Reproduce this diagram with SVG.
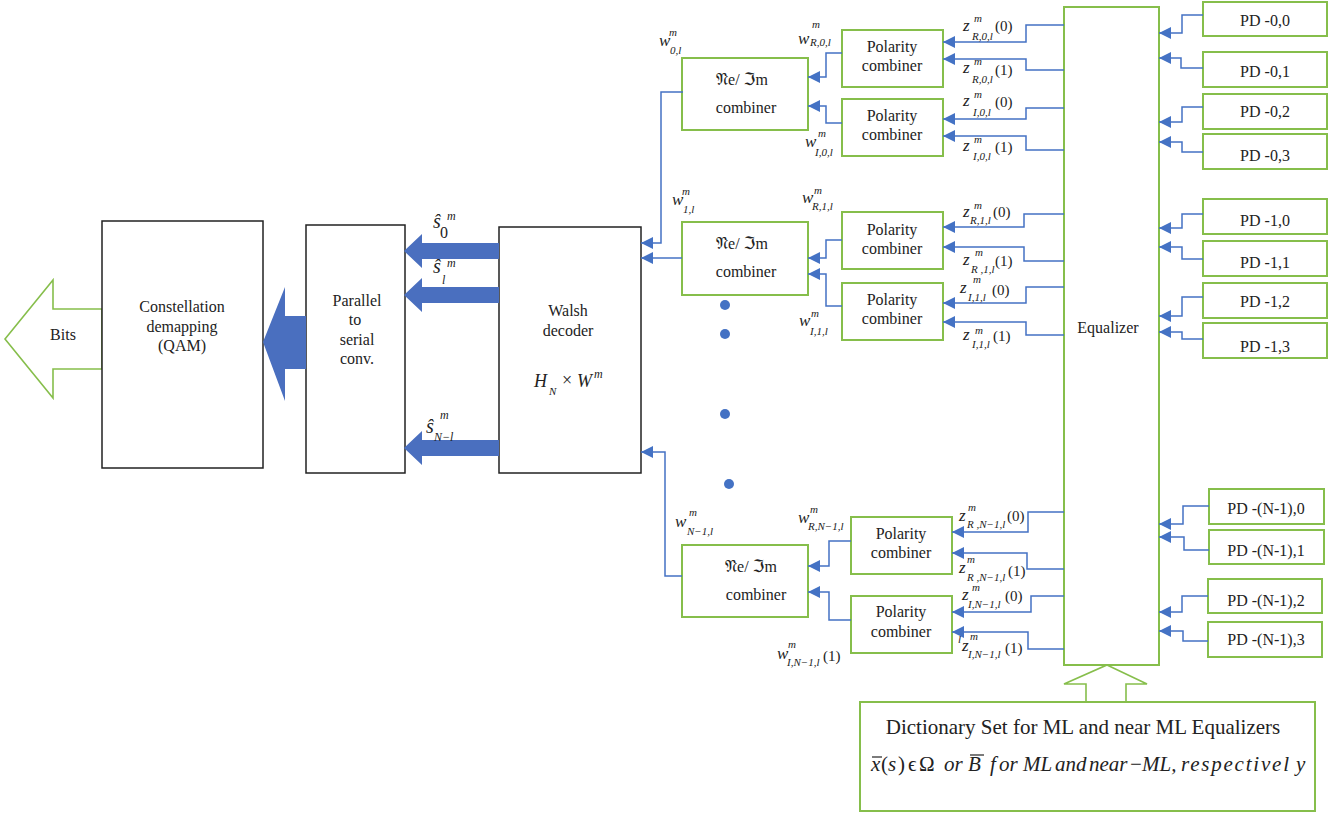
<svg xmlns="http://www.w3.org/2000/svg" width="1341" height="814" viewBox="0 0 1341 814">
<style>
.bk{fill:#fff;stroke:#222;stroke-width:1.5}
.gr{fill:#fff;stroke:#86BE4B;stroke-width:2}
.ga{fill:#fff;stroke:#86BE4B;stroke-width:1.6}
.bf{fill:#4A6FBF}
.cn{fill:none;stroke:#4472C4;stroke-width:1.5;marker-end:url(#ah)}
.t{font-family:"Liberation Serif","Times New Roman",serif;font-size:16px;fill:#222}
.c{text-anchor:middle}
.v{font-style:italic;font-size:17px}
.s{font-style:italic;font-size:11px}
.p{font-size:15px}
.fk{font-family:"DejaVu Serif","DejaVu Sans",serif;font-size:17px}
.i{font-style:italic}
</style>
<defs>
<marker id="ah" markerUnits="userSpaceOnUse" markerWidth="12" markerHeight="12" refX="12" refY="6" orient="auto">
<path d="M0,0 L12,6 L0,12 z" fill="#4472C4"/>
</marker>
</defs>

<g id="bits">
<polygon class="ga" points="5,339 53,280 53,309 102,309 102,369 53,369 53,398"/>
<text class="t c" x="63" y="340">Bits</text>
</g>

<g id="constellation">
<rect class="bk" x="102" y="221" width="161" height="247"/>
<text class="t c" x="182" y="312">Constellation</text>
<text class="t c" x="182" y="332">demapping</text>
<text class="t c" x="182" y="351">(QAM)</text>
</g>

<g id="p2s">
<rect class="bk" x="306" y="225" width="99" height="248"/>
<text class="t c" x="357" y="306">Parallel</text>
<text class="t c" x="355" y="325">to</text>
<text class="t c" x="357" y="345">serial</text>
<text class="t c" x="357" y="364">conv.</text>
</g>

<g id="walsh">
<rect class="bk" x="499" y="227" width="142" height="246"/>
<text class="t c" x="568" y="316">Walsh</text>
<text class="t c" x="568" y="336">decoder</text>
<text class="t" style="font-size:18px"><tspan x="534" y="387" class="i">H</tspan><tspan x="549" y="395" class="i" style="font-size:11px">N</tspan><tspan x="562" y="386">×</tspan><tspan x="577" y="387" class="i">W</tspan><tspan x="594" y="378" class="i" style="font-size:12px">m</tspan></text>
</g>

<g id="combiner0">
<rect class="gr" x="682" y="58" width="126" height="72"/>
<text class="t c" x="742" y="85"><tspan class="fk">𝔑</tspan>e/ <tspan class="fk">ℑ</tspan>m</text>
<text class="t c" x="746" y="113">combiner</text>
</g>
<g id="combiner1">
<rect class="gr" x="682" y="222" width="126" height="73"/>
<text class="t c" x="742" y="249"><tspan class="fk">𝔑</tspan>e/ <tspan class="fk">ℑ</tspan>m</text>
<text class="t c" x="746" y="277">combiner</text>
</g>
<g id="combinerN">
<rect class="gr" x="682" y="545" width="126" height="72"/>
<text class="t c" x="751" y="572"><tspan class="fk">𝔑</tspan>e/ <tspan class="fk">ℑ</tspan>m</text>
<text class="t c" x="756" y="600">combiner</text>
</g>

<g id="pol0R"><rect class="gr" x="842" y="30" width="101" height="57"/><text class="t c" x="892" y="52">Polarity</text><text class="t c" x="892" y="71">combiner</text></g>
<g id="pol0I"><rect class="gr" x="842" y="99" width="101" height="57"/><text class="t c" x="892" y="121">Polarity</text><text class="t c" x="892" y="140">combiner</text></g>
<g id="pol1R"><rect class="gr" x="842" y="212" width="101" height="57"/><text class="t c" x="892" y="235">Polarity</text><text class="t c" x="892" y="254">combiner</text></g>
<g id="pol1I"><rect class="gr" x="842" y="283" width="101" height="57"/><text class="t c" x="892" y="305">Polarity</text><text class="t c" x="892" y="324">combiner</text></g>
<g id="polNR"><rect class="gr" x="851" y="517" width="101" height="57"/><text class="t c" x="901" y="539">Polarity</text><text class="t c" x="901" y="558">combiner</text></g>
<g id="polNI"><rect class="gr" x="851" y="596" width="101" height="57"/><text class="t c" x="901" y="617">Polarity</text><text class="t c" x="901" y="637">combiner</text></g>

<g id="equalizer">
<rect class="gr" x="1064" y="7" width="95" height="658"/>
<text class="t c" x="1108" y="333">Equalizer</text>
</g>

<g id="pd00"><rect class="gr" x="1203" y="2" width="124" height="34"/><text class="t c" x="1265" y="26">PD -0,0</text></g>
<g id="pd01"><rect class="gr" x="1203" y="52" width="124" height="35"/><text class="t c" x="1265" y="77">PD -0,1</text></g>
<g id="pd02"><rect class="gr" x="1203" y="94" width="124" height="35"/><text class="t c" x="1265" y="117">PD -0,2</text></g>
<g id="pd03"><rect class="gr" x="1203" y="134" width="124" height="35"/><text class="t c" x="1265" y="161">PD -0,3</text></g>
<g id="pd10"><rect class="gr" x="1203" y="199" width="124" height="35"/><text class="t c" x="1265" y="226">PD -1,0</text></g>
<g id="pd11"><rect class="gr" x="1203" y="241" width="124" height="35"/><text class="t c" x="1265" y="268">PD -1,1</text></g>
<g id="pd12"><rect class="gr" x="1203" y="283" width="124" height="35"/><text class="t c" x="1265" y="307">PD -1,2</text></g>
<g id="pd13"><rect class="gr" x="1203" y="323" width="124" height="35"/><text class="t c" x="1265" y="352">PD -1,3</text></g>
<g id="pdN0"><rect class="gr" x="1209" y="489" width="115" height="35"/><text class="t c" x="1266" y="514">PD -(N-1),0</text></g>
<g id="pdN1"><rect class="gr" x="1209" y="530" width="115" height="34"/><text class="t c" x="1266" y="556">PD -(N-1),1</text></g>
<g id="pdN2"><rect class="gr" x="1208" y="579" width="114" height="34"/><text class="t c" x="1266" y="606">PD -(N-1),2</text></g>
<g id="pdN3"><rect class="gr" x="1208" y="622" width="114" height="35"/><text class="t c" x="1266" y="645">PD -(N-1),3</text></g>

<g id="dictionary">
<polygon class="ga" points="1107,665 1147,684 1126,684 1126,702 1086,702 1086,684 1064,684"/>
<rect class="gr" x="860" y="702" width="455" height="109"/>
<text class="t c" x="1083" y="734" style="font-size:21px">Dictionary Set for ML and near ML Equalizers</text>
<text class="t" style="font-size:21px" y="771"><tspan class="i" x="871" y="771">x</tspan><tspan x="881">(</tspan><tspan class="i" x="888">s</tspan><tspan x="898">)</tspan><tspan x="908">ϵ</tspan><tspan x="919">Ω</tspan><tspan class="i" x="944">or</tspan><tspan class="i" x="968">B</tspan><tspan class="i" x="990">f</tspan><tspan class="i" x="999">or</tspan><tspan class="i" x="1023">ML</tspan><tspan class="i" x="1055">and</tspan><tspan class="i" x="1089">near</tspan><tspan x="1130">−</tspan><tspan class="i" x="1142">ML,</tspan><tspan class="i" x="1181" textLength="108" lengthAdjust="spacing">respectivel</tspan><tspan class="i" x="1296">y</tspan></text>
<line x1="872" y1="757" x2="882" y2="757" stroke="#222" stroke-width="1.2"/>
<line x1="970" y1="755" x2="984" y2="755" stroke="#222" stroke-width="1.2"/>
</g>

<g id="dots" fill="#4472C4">
<circle cx="725" cy="305" r="5"/>
<circle cx="725" cy="334" r="5"/>
<circle cx="725" cy="414" r="5"/>
<circle cx="729" cy="484" r="5"/>
</g>

<g id="blockarrows">
<polygon class="bf" points="263,342 285,287 285,316 306,316 306,369 285,369 285,401"/>
<polygon class="bf" points="404,251 422,234 422,243 499,243 499,259 422,259 422,268"/>
<polygon class="bf" points="404,295 422,278 422,287 499,287 499,303 422,303 422,312"/>
<polygon class="bf" points="404,448 422,431 422,440 499,440 499,456 422,456 422,465"/>
</g>

<g id="connectors">
<path class="cn" d="M683,92 H661 V243 H641"/>
<path class="cn" d="M682,258 H641"/>
<path class="cn" d="M682,576 H665 V452 H641"/>
<path class="cn" d="M842,53 H826 V77 H808"/>
<path class="cn" d="M842,123 H826 V106 H808"/>
<path class="cn" d="M842,240 H826 V258 H808"/>
<path class="cn" d="M842,306 H826 V274 H808"/>
<path class="cn" d="M851,541 H829 V566 H808"/>
<path class="cn" d="M851,620 H829 V592 H808"/>
<path class="cn" d="M1064,25 H1026 V42 H943"/>
<path class="cn" d="M1064,70 H1026 V59 H943"/>
<path class="cn" d="M1064,108 H1026 V119 H943"/>
<path class="cn" d="M1064,150 H1026 V136 H943"/>
<path class="cn" d="M1064,214 H1024 V227 H943"/>
<path class="cn" d="M1064,261 H1024 V247 H943"/>
<path class="cn" d="M1064,287 H1026 V303 H943"/>
<path class="cn" d="M1064,335 H1026 V322 H943"/>
<path class="cn" d="M1064,512 H1028 V532 H952"/>
<path class="cn" d="M1064,569 H1027 V553 H952"/>
<path class="cn" d="M1064,596 H1031 V612 H952"/>
<path class="cn" d="M1064,649 H1028 V632 H952"/>
<path class="cn" d="M1203,15 H1182 V33 H1159"/>
<path class="cn" d="M1203,68 H1181 V58 H1159"/>
<path class="cn" d="M1203,107 H1182 V122 H1159"/>
<path class="cn" d="M1203,152 H1182 V142 H1159"/>
<path class="cn" d="M1203,214 H1182 V228 H1159"/>
<path class="cn" d="M1203,259 H1182 V247 H1159"/>
<path class="cn" d="M1203,297 H1182 V316 H1159"/>
<path class="cn" d="M1203,339 H1182 V332 H1159"/>
<path class="cn" d="M1209,506 H1183 V524 H1159"/>
<path class="cn" d="M1209,550 H1184 V537 H1159"/>
<path class="cn" d="M1208,596 H1182 V612 H1159"/>
<path class="cn" d="M1208,641 H1183 V631 H1159"/>
</g>

<g id="labels" class="t">
<text><tspan class="v" x="433" y="228" style="font-size:20px">ŝ</tspan><tspan x="440" y="238">0</tspan><tspan class="s" x="447" y="220" style="font-size:12px">m</tspan></text>
<text><tspan class="v" x="433" y="273" style="font-size:20px">ŝ</tspan><tspan class="s" x="442" y="284" style="font-size:12px">l</tspan><tspan class="s" x="447" y="267" style="font-size:12px">m</tspan></text>
<text><tspan class="v" x="426" y="433" style="font-size:20px">ŝ</tspan><tspan class="s" x="434" y="441" style="font-size:12px">N−l</tspan><tspan class="s" x="440" y="419" style="font-size:12px">m</tspan></text>

<text><tspan class="v" x="659" y="46">w</tspan><tspan class="s" x="669" y="36">m</tspan><tspan class="s" x="670" y="54">0,l</tspan></text>
<text><tspan class="v" x="798" y="44">w</tspan><tspan class="s" x="812" y="28">m</tspan><tspan class="s" x="810" y="46">R,0,l</tspan></text>
<text><tspan class="v" x="805" y="147">w</tspan><tspan class="s" x="818" y="137">m</tspan><tspan class="s" x="815" y="156">I,0,l</tspan></text>
<text><tspan class="v" x="963" y="31">z</tspan><tspan class="s" x="974" y="22">m</tspan><tspan class="s" x="972" y="40">R,0,l</tspan><tspan class="p" x="995" y="31">(0)</tspan></text>
<text><tspan class="v" x="963" y="73">z</tspan><tspan class="s" x="974" y="65">m</tspan><tspan class="s" x="972" y="83">R,0,l</tspan><tspan class="p" x="995" y="75">(1)</tspan></text>
<text><tspan class="v" x="963" y="106">z</tspan><tspan class="s" x="974" y="98">m</tspan><tspan class="s" x="973" y="116">I,0,l</tspan><tspan class="p" x="995" y="107">(0)</tspan></text>
<text><tspan class="v" x="963" y="151">z</tspan><tspan class="s" x="974" y="143">m</tspan><tspan class="s" x="973" y="160">I,0,l</tspan><tspan class="p" x="995" y="152">(1)</tspan></text>

<text><tspan class="v" x="672" y="205">w</tspan><tspan class="s" x="682" y="195">m</tspan><tspan class="s" x="683" y="213">1,l</tspan></text>
<text><tspan class="v" x="802" y="203">w</tspan><tspan class="s" x="814" y="194">m</tspan><tspan class="s" x="812" y="210">R,1,l</tspan></text>
<text><tspan class="v" x="799" y="326">w</tspan><tspan class="s" x="811" y="317">m</tspan><tspan class="s" x="810" y="335">I,1,l</tspan></text>
<text><tspan class="v" x="963" y="217">z</tspan><tspan class="s" x="974" y="209">m</tspan><tspan class="s" x="970" y="224">R,1,l</tspan><tspan class="p" x="993" y="217">(0)</tspan></text>
<text><tspan class="v" x="963" y="265">z</tspan><tspan class="s" x="975" y="256">m</tspan><tspan class="s" x="971" y="273">R ,1,l</tspan><tspan class="p" x="995" y="266">(1)</tspan></text>
<text><tspan class="v" x="960" y="293">z</tspan><tspan class="s" x="973" y="283">m</tspan><tspan class="s" x="968" y="301">I,1,l</tspan><tspan class="p" x="992" y="295">(0)</tspan></text>
<text><tspan class="v" x="963" y="340">z</tspan><tspan class="s" x="975" y="334">m</tspan><tspan class="s" x="972" y="348">I,1,l</tspan><tspan class="p" x="993" y="341">(1)</tspan></text>

<text><tspan class="v" x="675" y="527">w</tspan><tspan class="s" x="689" y="516">m</tspan><tspan class="s" x="687" y="535">N−1,l</tspan></text>
<text><tspan class="v" x="798" y="523">w</tspan><tspan class="s" x="810" y="513">m</tspan><tspan class="s" x="808" y="530">R,N−1,l</tspan></text>
<text><tspan class="v" x="777" y="659">w</tspan><tspan class="s" x="788" y="648">m</tspan><tspan class="s" x="787" y="666">I,N−1,l</tspan><tspan class="p" x="823" y="661">(1)</tspan></text>
<text><tspan class="v" x="959" y="521">z</tspan><tspan class="s" x="968" y="511">m</tspan><tspan class="s" x="967" y="528">R ,N−1,l</tspan><tspan class="p" x="1007" y="521">(0)</tspan></text>
<text><tspan class="v" x="959" y="573">z</tspan><tspan class="s" x="967" y="563">m</tspan><tspan class="s" x="967" y="581">R ,N−1,l</tspan><tspan class="p" x="1008" y="576">(1)</tspan></text>
<text><tspan class="v" x="962" y="600">z</tspan><tspan class="s" x="972" y="591">m</tspan><tspan class="s" x="968" y="608">I,N−1,l</tspan><tspan class="p" x="1005" y="601">(0)</tspan></text>
<text><tspan class="s" x="958" y="643">l</tspan><tspan class="v" x="962" y="651">z</tspan><tspan class="s" x="970" y="640">m</tspan><tspan class="s" x="968" y="658">I,N−1,l</tspan><tspan class="p" x="1005" y="653">(1)</tspan></text>
</g>
</svg>
